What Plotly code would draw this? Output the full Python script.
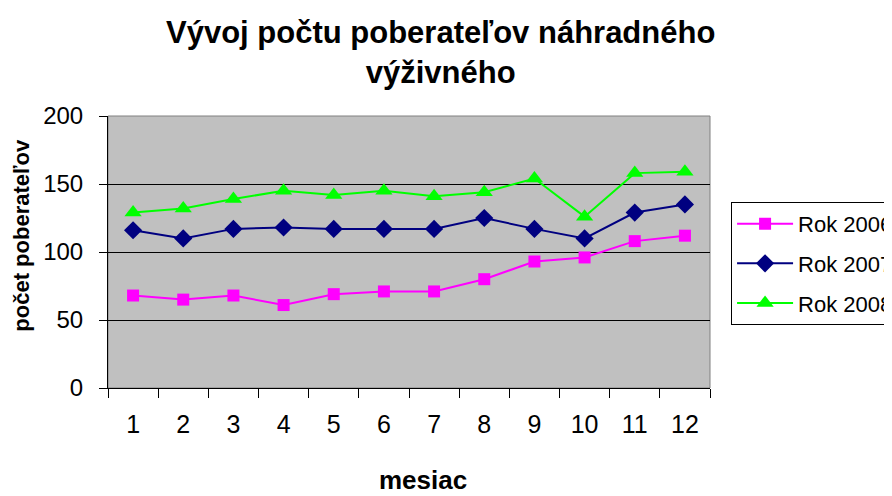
import plotly.graph_objects as go

mesiace = [str(m) for m in range(1, 13)]
rok_2006 = [68, 65, 68, 61, 69, 71, 71, 80, 93, 96, 108, 112]
rok_2007 = [116, 110, 117, 118, 117, 117, 117, 125, 117, 110, 129, 135]
rok_2008 = [129, 132, 139, 145, 142, 145, 141, 144, 154, 126, 158, 159]

fig = go.Figure()
fig.add_trace(go.Scatter(
    x=mesiace, y=rok_2006, name="Rok 2006", mode="lines+markers", legendgroup="a",
    line=dict(color="#FF00FF", width=2),
    marker=dict(symbol="square", size=12, color="#FF00FF"),
))
fig.add_trace(go.Scatter(
    x=mesiace, y=rok_2007, name="Rok 2007", mode="lines+markers", legendgroup="b",
    line=dict(color="#000080", width=2),
    marker=dict(symbol="diamond", size=14, color="#000080"),
))
fig.add_trace(go.Scatter(
    x=mesiace, y=rok_2008, name="Rok 2008", mode="lines+markers", legendgroup="c",
    line=dict(color="#00FF00", width=2),
    marker=dict(symbol="triangle-up", size=15, color="#00FF00"),
))

fig.update_layout(
    width=892,
    height=496,
    margin=dict(l=100, r=190, t=108, b=116, autoexpand=False),
    paper_bgcolor="white",
    plot_bgcolor="#C0C0C0",
    font=dict(family="Liberation Sans, Arial", size=24, color="black"),
    showlegend=True,
    legend=dict(
        x=1.035, xanchor="left",
        y=0.684, yanchor="top",
        bordercolor="black", borderwidth=1, bgcolor="white",
        font=dict(size=22),
        traceorder="grouped",
        tracegroupgap=8,
        itemwidth=56,
    ),
)

# titles as annotations for exact placement
fig.add_annotation(
    text="<b>Vývoj počtu poberateľov náhradného<br>výživného</b>",
    xref="paper", yref="paper", x=0.553, y=1.2335,
    xanchor="center", yanchor="middle", showarrow=False,
    font=dict(size=31),
)
fig.add_annotation(
    text="<b>počet poberateľov</b>",
    xref="paper", yref="paper", x=-0.145, y=0.5625,
    xanchor="center", yanchor="middle", textangle=-90, showarrow=False,
    font=dict(size=22),
)
fig.add_annotation(
    text="<b>mesiac</b>",
    xref="paper", yref="paper", x=0.5233, y=-0.338,
    xanchor="center", yanchor="middle", showarrow=False,
    font=dict(size=26),
)

fig.update_xaxes(
    type="category",
    range=[-0.5, 11.5],
    tickson="boundaries",
    ticks="outside", ticklen=9, tickcolor="black",
    showline=True, linecolor="black", linewidth=1,
    showgrid=False,
    ticklabelstandoff=14,
    tickfont=dict(size=25),
)
fig.update_yaxes(
    range=[0, 200],
    dtick=50,
    ticks="outside", ticklen=8, tickcolor="black",
    showline=True, linecolor="black", linewidth=1,
    showgrid=True, gridcolor="black", gridwidth=1,
    zeroline=False,
    ticklabelstandoff=11,
    tickfont=dict(size=24),
)

fig.add_shape(type="rect", xref="paper", yref="paper", x0=0, y0=0, x1=1, y1=1,
              line=dict(color="#808080", width=1), layer="below")

fig.write_html("out.html")
